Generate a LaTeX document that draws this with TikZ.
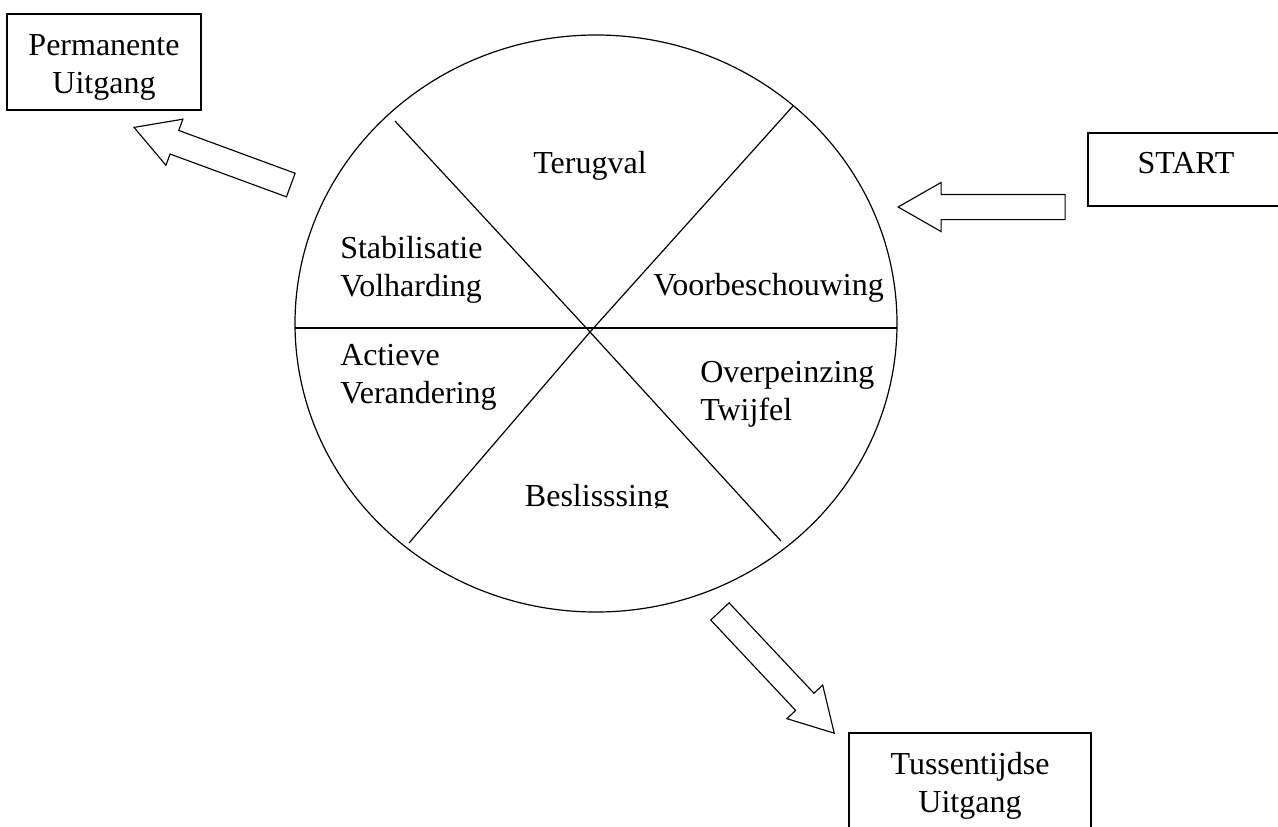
\documentclass[tikz,border=0pt]{standalone}
\usepackage{fontspec}
\setmainfont{Liberation Serif}
\usetikzlibrary{shapes.arrows,shapes.geometric,positioning}

\begin{document}
\begin{tikzpicture}
	[x=0.75pt,y=-0.75pt,
	font=\fontsize{24}{28.5}\selectfont,
	exitbox/.style={draw,line width=1.1pt,align=center,inner sep=0pt,minimum height=72pt},
	blockarrow/.style={draw,single arrow,line width=0.85pt,minimum height=125.25pt,minimum width=36pt,
		single arrow head extend=9pt,single arrow tip angle=59.5,inner sep=0pt,inner ysep=9pt,anchor=tip},
	phase/.style={align=left,inner sep=0pt}]
	\clip (0,0) rectangle (1278,826);
	\node[draw,ellipse,line width=0.9pt,minimum width=451.5pt,minimum height=432.75pt,inner sep=0pt] (wheel) at (596,323.5) {};
	\coordinate (hub) at (590,332);
	\draw[line width=0.9pt] (295,328) -- (897,328);
	\draw[line width=0.9pt] (395,121) -- (hub) -- (781,541);
	\draw[line width=0.9pt] (793,106) -- (hub) -- (409,543);
	\node[phase,anchor=base] (terugval) at (590,173) {Terugval};
	\node[phase,anchor=base west] (stabil) at (340,296) {Stabilisatie\\Volharding};
	\node[phase,anchor=base west] (voorbesch) at (653,295) {Voorbeschouwing};
	\node[phase,anchor=base west] (actief) at (340,403) {Actieve\\Verandering};
	\node[phase,anchor=base west] (overpeinz) at (700,420) {Overpeinzing\\Twijfel};
	\begin{scope}
		\clip (0,0) rectangle (1278,507);
		\node[phase,anchor=base] (beslis) at (597,506) {Beslisssing};
	\end{scope}
	\node[exitbox,text height=48pt,text depth=1.5pt,minimum width=145.5pt] (permanent) at (104,62) {Permanente\\Uitgang};
	\node[exitbox,text height=15pt,text depth=9.75pt,minimum width=147pt,minimum height=54.75pt] (start) at (1186,169.5) {START};
	\node[exitbox,text height=48pt,text depth=1.5pt,minimum width=181.5pt] (tussentijds) at (970,781) {Tussentijdse\\Uitgang};
	\node[blockarrow,rotate=159.8] (permarrow) at (133,127) {};
	\node[blockarrow,rotate=180] (startarrow) at (897,207) {};
	\node[blockarrow,rotate=-46.8] (tussarrow) at (835,734) {};
\end{tikzpicture}
\end{document}
